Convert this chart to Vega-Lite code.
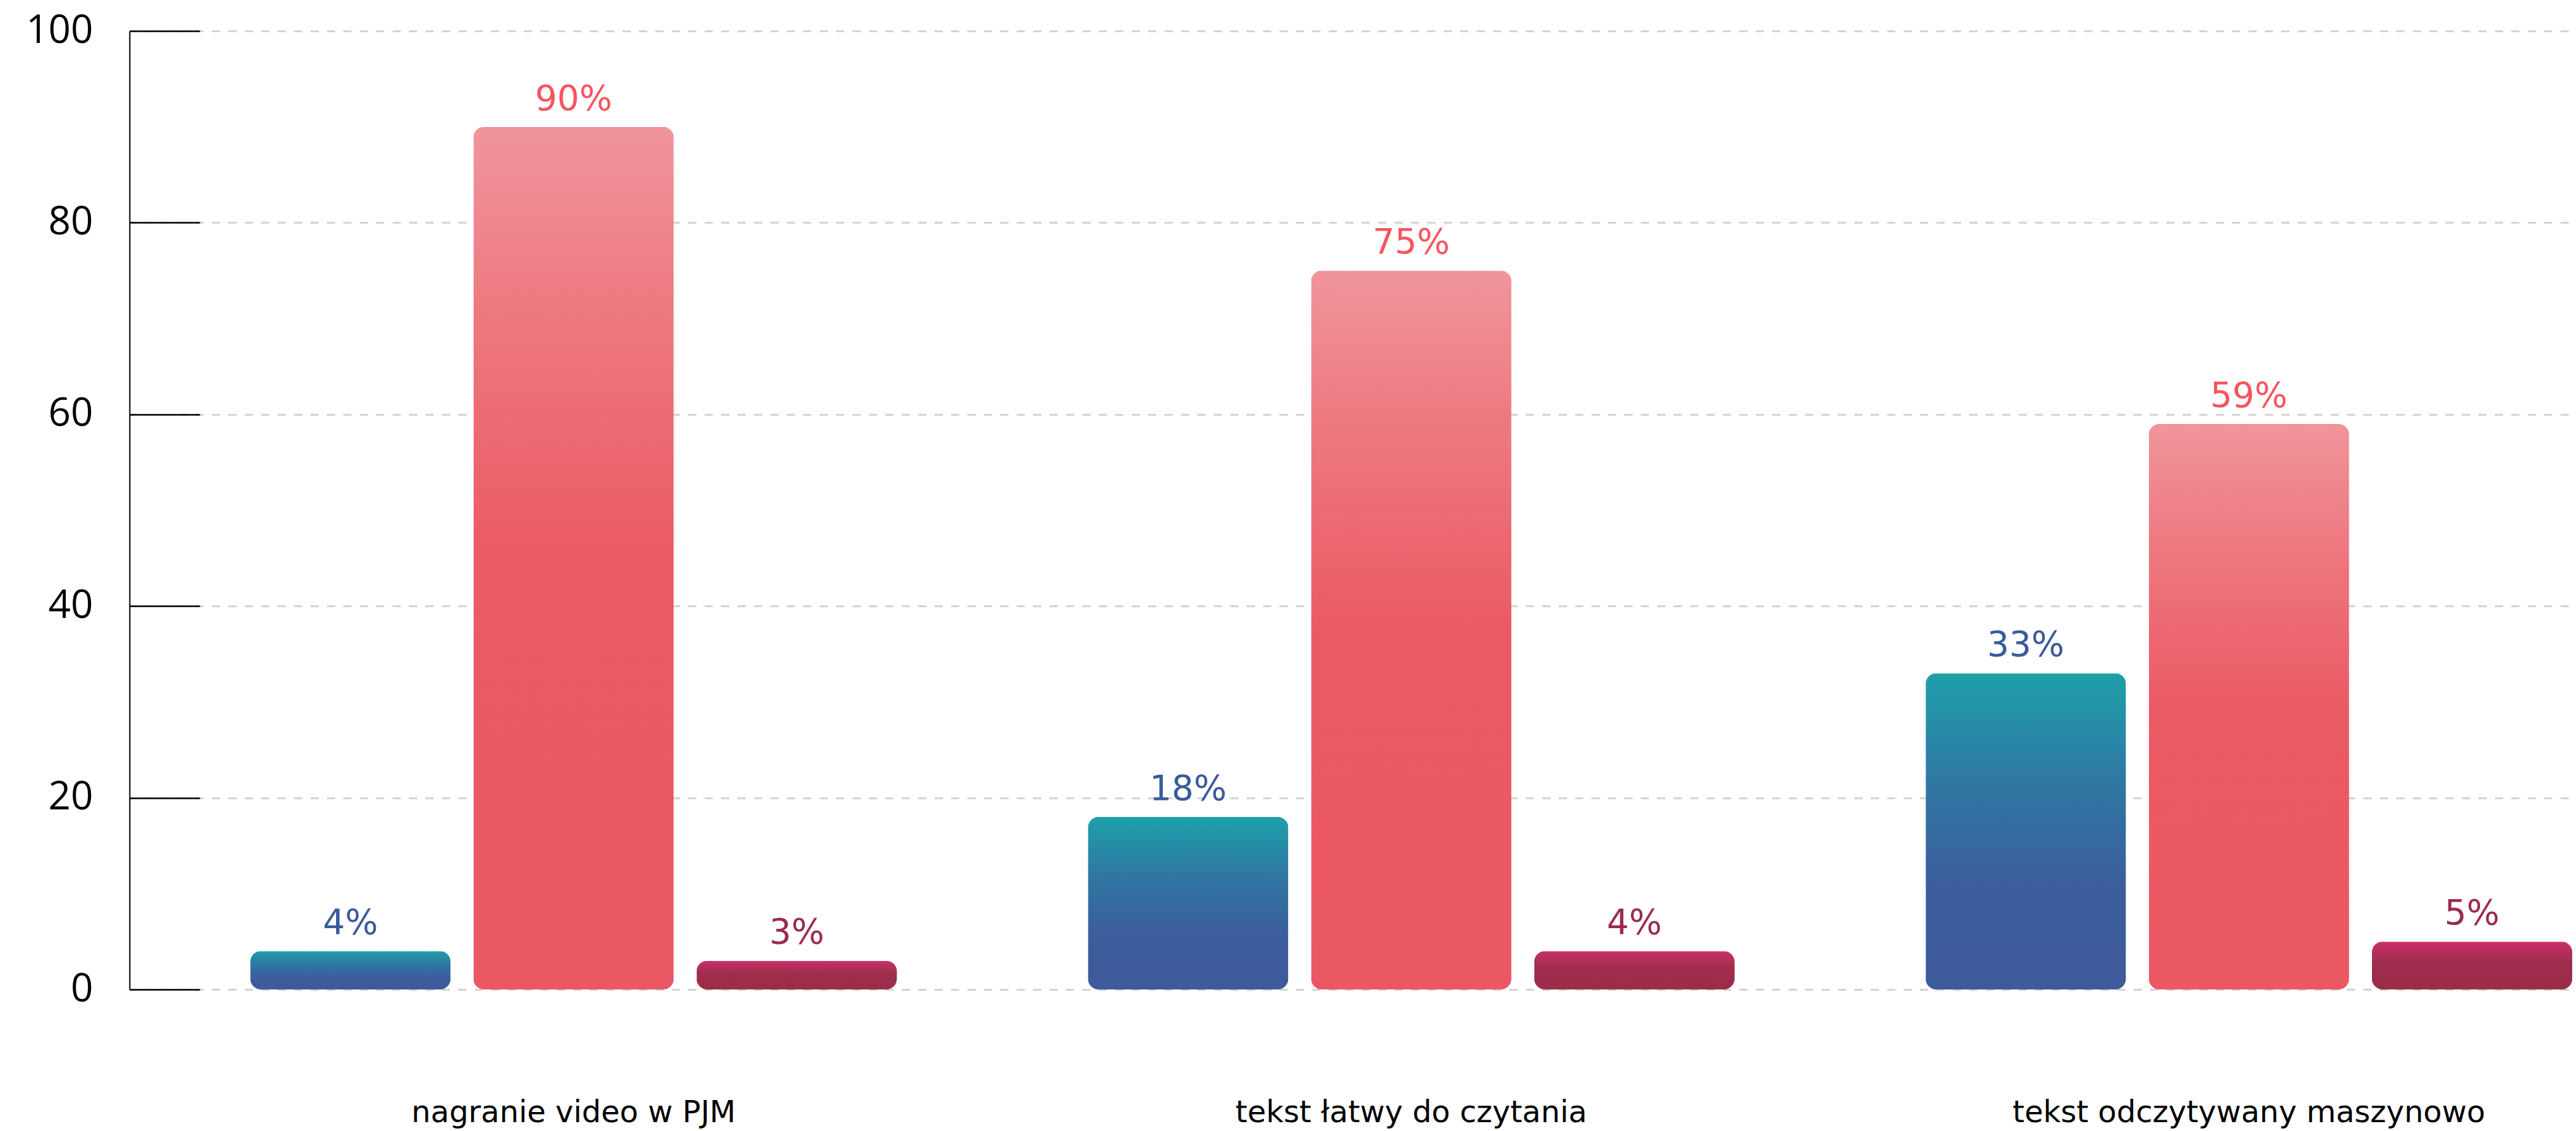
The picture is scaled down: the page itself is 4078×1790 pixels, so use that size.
{
  "$schema": "https://vega.github.io/schema/vega-lite/v6.json",
  "width": 3873,
  "height": 1517,
  "autosize": {"type": "none"},
  "padding": {"left": 205, "top": 49, "right": 0, "bottom": 224},
  "background": "white",
  "config": {"view": {"stroke": null}},
  "data": {"values": [
    {"kategoria": "nagranie video w PJM", "seria": "s1", "wartosc": 4, "etykieta": "4%"},
    {"kategoria": "nagranie video w PJM", "seria": "s2", "wartosc": 90, "etykieta": "90%"},
    {"kategoria": "nagranie video w PJM", "seria": "s3", "wartosc": 3, "etykieta": "3%"},
    {"kategoria": "tekst łatwy do czytania", "seria": "s1", "wartosc": 18, "etykieta": "18%"},
    {"kategoria": "tekst łatwy do czytania", "seria": "s2", "wartosc": 75, "etykieta": "75%"},
    {"kategoria": "tekst łatwy do czytania", "seria": "s3", "wartosc": 4, "etykieta": "4%"},
    {"kategoria": "tekst odczytywany maszynowo", "seria": "s1", "wartosc": 33, "etykieta": "33%"},
    {"kategoria": "tekst odczytywany maszynowo", "seria": "s2", "wartosc": 59, "etykieta": "59%"},
    {"kategoria": "tekst odczytywany maszynowo", "seria": "s3", "wartosc": 5, "etykieta": "5%"}
  ]},
  "encoding": {
    "x": {
      "field": "kategoria", "type": "nominal",
      "sort": ["nagranie video w PJM", "tekst łatwy do czytania", "tekst odczytywany maszynowo"],
      "scale": {"paddingInner": 0.228, "paddingOuter": 0.0743, "align": 0.97},
      "axis": {
        "title": null, "orient": "bottom", "domain": false, "ticks": false, "tickSize": 0, "grid": false,
        "labelAngle": 0, "labelFont": "DejaVu Sans", "labelFontSize": 48, "labelColor": "#000000",
        "labelBaseline": "alphabetic", "labelPadding": 209, "labelLimit": 2000
      }
    },
    "xOffset": {
      "field": "seria", "type": "nominal",
      "scale": {"domain": ["s1", "s2", "s3"], "paddingInner": 0.102, "paddingOuter": 0}
    },
    "y": {
      "field": "wartosc", "type": "quantitative",
      "scale": {"domain": [0, 100], "nice": false},
      "axis": {
        "title": null, "values": [0, 20, 40, 60, 80, 100],
        "domain": true, "domainColor": "#000000", "domainWidth": 2,
        "ticks": true, "tickColor": "#000000", "tickWidth": 2.5, "tickSize": -111,
        "grid": true, "gridColor": "#D3D3D3", "gridWidth": 3, "gridDash": [13, 13],
        "labelFont": "Open Sans", "labelFontSize": 62, "labelColor": "#000000",
        "labelPadding": 169, "labelBaseline": "middle", "labelOffset": -1
      }
    }
  },
  "layer": [
    {
      "transform": [{"filter": "datum.seria === 's1'"}],
      "mark": {
        "type": "bar", "cornerRadius": 17,
        "color": {"gradient": "linear", "x1": 0, "y1": 0, "x2": 0, "y2": 1,
          "stops": [
            {"offset": 0, "color": "#1EA0AA"},
            {"offset": 0.35, "color": "#2F76A2"},
            {"offset": 0.7, "color": "#3D5C9B"},
            {"offset": 1, "color": "#3D5B9B"}
          ]}
      }
    },
    {
      "transform": [{"filter": "datum.seria === 's2'"}],
      "mark": {
        "type": "bar", "cornerRadius": 17,
        "color": {"gradient": "linear", "x1": 0, "y1": 0, "x2": 0, "y2": 1,
          "stops": [
            {"offset": 0, "color": "#F0959B"},
            {"offset": 0.2, "color": "#EE7A82"},
            {"offset": 0.5, "color": "#EA5A64"},
            {"offset": 1, "color": "#EA5863"}
          ]}
      }
    },
    {
      "transform": [{"filter": "datum.seria === 's3'"}],
      "mark": {
        "type": "bar", "cornerRadius": 17,
        "color": {"gradient": "linear", "x1": 0, "y1": 0, "x2": 0, "y2": 1,
          "stops": [
            {"offset": 0, "color": "#C8306A"},
            {"offset": 0.45, "color": "#9E2D4B"},
            {"offset": 1, "color": "#9B2D49"}
          ]}
      }
    },
    {
      "mark": {"type": "text", "baseline": "alphabetic", "align": "center", "dy": -27, "font": "DejaVu Sans", "fontSize": 55},
      "encoding": {
        "text": {"field": "etykieta", "type": "nominal"},
        "color": {
          "field": "seria", "type": "nominal", "legend": null,
          "scale": {"domain": ["s1", "s2", "s3"], "range": ["#3A5A9B", "#F5555F", "#9B2C4B"]}
        }
      }
    }
  ]
}
